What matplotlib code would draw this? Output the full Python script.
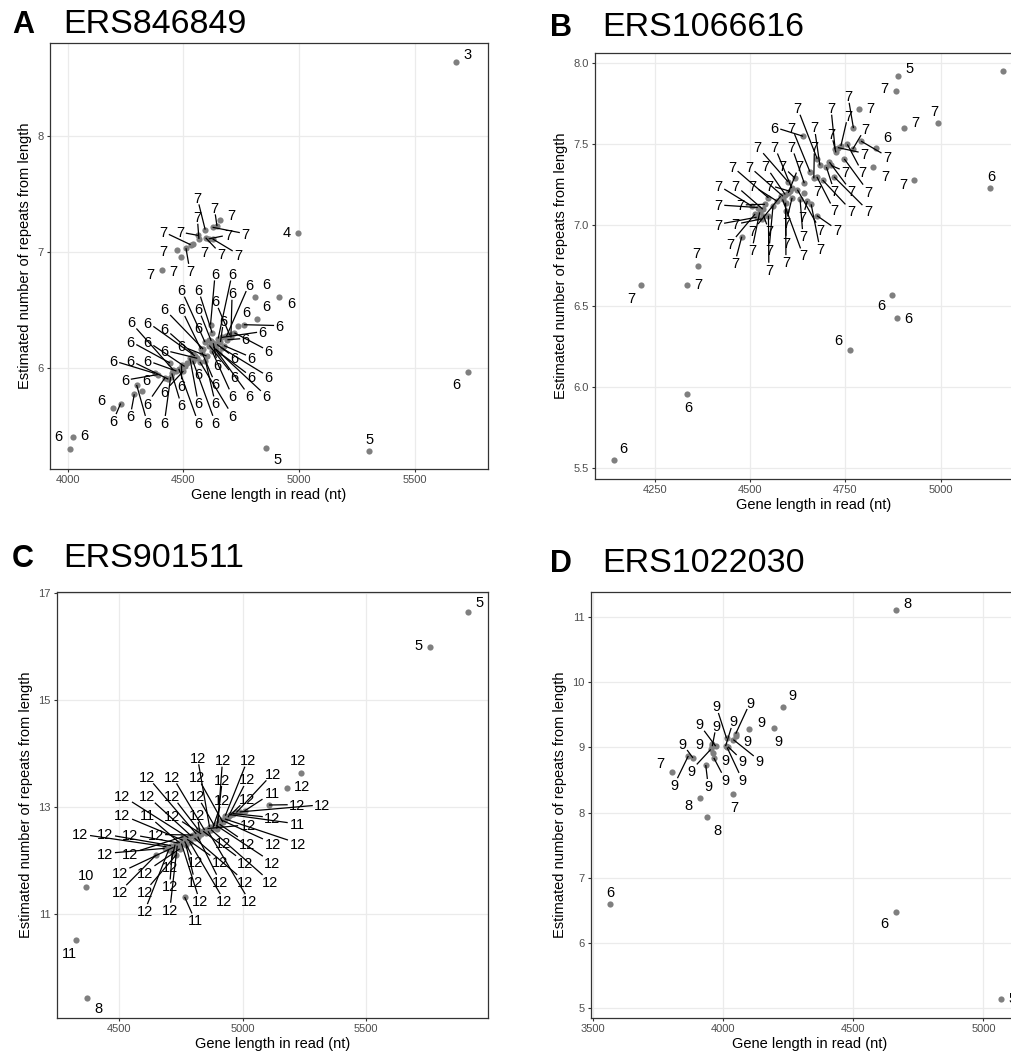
import numpy as np
import matplotlib
matplotlib.use('Agg')
import matplotlib.pyplot as plt

plt.rcParams['font.family'] = ['Liberation Sans', 'DejaVu Sans']

W_PX, H_PX, DPI = 1011, 1061, 100

# ---- Panel A: ERS846849 ----
A_LEN = [5677, 4996, 4856, 5300, 5728, 4024, 4010,
         4406, 4488, 4471, 4511, 4531, 4564, 4567, 4594, 4596, 4609, 4626, 4626, 4645, 4656, 4540,
         4809, 4914, 4819, 4761, 4735, 4617, 4624, 4686, 4700, 4665, 4593, 4629, 4645, 4660, 4612,
         4585, 4624, 4640, 4655, 4542, 4571, 4560, 4528, 4600, 4580, 4492, 4505, 4442, 4456, 4470,
         4420, 4435, 4445, 4377, 4390, 4298, 4320, 4288, 4229, 4197, 4610, 4675, 4690, 4720, 4550,
         4480, 4515, 4595, 4630, 4665, 4575, 4540, 4500, 4450, 4650, 4705, 4620]
A_REP = [8.64, 7.16, 5.31, 5.28, 5.96, 5.40, 5.30,
         6.84, 6.95, 7.01, 7.03, 7.06, 7.14, 7.11, 7.19, 7.12, 7.11, 7.11, 7.21, 7.22, 7.27, 7.07,
         6.61, 6.61, 6.42, 6.37, 6.36, 6.37, 6.30, 6.27, 6.28, 6.26, 6.22, 6.21, 6.20, 6.22, 6.19,
         6.16, 6.14, 6.16, 6.13, 6.12, 6.05, 6.08, 6.08, 6.10, 6.13, 6.02, 6.01, 6.04, 5.98, 5.97,
         5.91, 5.90, 5.92, 5.95, 5.94, 5.85, 5.80, 5.77, 5.69, 5.65, 6.24, 6.19, 6.24, 6.30, 6.10,
         5.99, 6.04, 6.06, 6.18, 6.17, 6.16, 6.06, 5.97, 5.95, 6.25, 6.26, 6.23]
A_LAB = [3, 4, 5, 5, 6, 6, 6,
         7, 7, 7, 7, 7, 7, 7, 7, 7, 7, 7, 7, 7, 7, 7,
         6, 6, 6, 6, 6, 6, 6, 6, 6, 6, 6, 6, 6, 6, 6,
         6, 6, 6, 6, 6, 6, 6, 6, 6, 6, 6, 6, 6, 6, 6,
         6, 6, 6, 6, 6, 6, 6, 6, 6, 6, 6, 6, 6, 6, 6,
         6, 6, 6, 6, 6, 6, 6, 6, 6, 6, 6, 6]

# ---- Panel B: ERS1066616 ----
B_LEN = [4887, 4639, 4829, 5130, 4873, 4885, 4762, 4334, 4143,
         4883, 5163, 4994, 4903, 4786, 4771, 4791, 4769, 4723, 4730, 4738, 4747, 4823, 4931,
         4478, 4362, 4214, 4334, 4676, 4708, 4683, 4657, 4675, 4667, 4720, 4712, 4642, 4618,
         4609, 4599, 4624, 4586, 4580, 4592, 4548, 4631, 4593, 4539, 4504, 4533, 4513, 4517,
         4548, 4593, 4675, 4660, 4600, 4570, 4525, 4530, 4560, 4610, 4640, 4700, 4725, 4605,
         4585, 4535, 4755, 4690, 4650, 4520]
B_REP = [7.92, 7.55, 7.48, 7.23, 6.57, 6.43, 6.23, 5.96, 5.55,
         7.83, 7.95, 7.63, 7.60, 7.72, 7.60, 7.52, 7.47, 7.47, 7.48, 7.49, 7.41, 7.36, 7.28,
         6.93, 6.75, 6.63, 6.63, 7.41, 7.39, 7.37, 7.33, 7.30, 7.29, 7.30, 7.37, 7.26, 7.29,
         7.23, 7.27, 7.22, 7.18, 7.18, 7.19, 7.17, 7.16, 7.14, 7.13, 7.12, 7.10, 7.07, 7.05,
         7.06, 7.09, 7.06, 7.13, 7.20, 7.15, 7.08, 7.04, 7.12, 7.17, 7.20, 7.36, 7.45, 7.21,
         7.16, 7.06, 7.50, 7.28, 7.15, 7.11]
B_LAB = [5, 6, 6, 6, 6, 6, 6, 6, 6,
         7, 7, 7, 7, 7, 7, 7, 7, 7, 7, 7, 7, 7, 7,
         7, 7, 7, 7, 7, 7, 7, 7, 7, 7, 7, 7, 7, 7,
         7, 7, 7, 7, 7, 7, 7, 7, 7, 7, 7, 7, 7, 7,
         7, 7, 7, 7, 7, 7, 7, 7, 7, 7, 7, 7, 7, 7,
         7, 7, 7, 7, 7, 7]

# ---- Panel C: ERS901511 ----
C_LEN = [5915, 5759, 4370, 4363, 4325, 4765, 5008, 4948, 4745, 5239, 5180, 5107,
         4650, 4684, 4691, 4700, 4710, 4720, 4726, 4731, 4735, 4740, 4745, 4752, 4758,
         4765, 4775, 4780, 4785, 4792, 4800, 4805, 4812, 4818, 4826, 4832, 4840, 4846,
         4852, 4858, 4866, 4872, 4880, 4886, 4893, 4900, 4907, 4914, 4920, 4928, 4941,
         4950, 4961, 4975, 4988, 4715, 4770, 4860, 4895, 4760, 4820, 4930]
C_REP = [16.65, 16.00, 9.43, 11.50, 10.51, 11.32, 12.93, 12.86, 12.33, 13.64, 13.35, 13.04,
         12.11, 12.23, 12.26, 12.20, 12.28, 12.25, 12.30, 12.11, 12.28, 12.33, 12.22, 12.32, 12.38,
         12.36, 12.40, 12.43, 12.35, 12.46, 12.48, 12.42, 12.50, 12.45, 12.54, 12.50, 12.55, 12.57,
         12.52, 12.60, 12.63, 12.58, 12.62, 12.65, 12.66, 12.70, 12.68, 12.76, 12.72, 12.78, 12.81,
         12.85, 12.88, 12.90, 12.91, 12.18, 12.30, 12.55, 12.60, 12.45, 12.58, 12.84]
C_LAB = [5, 5, 8, 10, 11, 11, 11, 11, 11, 12, 12, 12,
         12, 12, 12, 12, 12, 12, 12, 12, 12, 12, 12, 12, 12,
         12, 12, 12, 12, 12, 12, 12, 12, 12, 12, 12, 12, 12,
         12, 12, 12, 12, 12, 12, 12, 12, 12, 12, 12, 12, 12,
         12, 12, 12, 12, 12, 12, 12, 12, 12, 12, 12]

# ---- Panel D: ERS1022030 ----
D_LEN = [4666, 3911, 3940, 3566, 4663, 5069, 3803, 4037, 4231, 4196,
         3867, 3885, 3934, 3959, 3972, 3953, 3965, 3957, 3962, 4010, 4016, 4020, 4014,
         4040, 4049, 4051, 4100]
D_REP = [11.10, 8.22, 7.93, 6.60, 6.48, 5.15, 8.62, 8.29, 9.62, 9.30,
         8.87, 8.84, 8.73, 9.02, 9.02, 8.97, 8.84, 9.05, 8.92, 9.02, 9.00, 9.01, 9.14,
         9.12, 9.21, 9.17, 9.29]
D_LAB = [8, 8, 8, 6, 6, 5, 7, 7, 9, 9,
         9, 9, 9, 9, 9, 9, 9, 9, 9, 9, 9, 9, 9,
         9, 9, 9, 9]

PANELS = [
    dict(tag='A', title='ERS846849', x=A_LEN, y=A_REP, lab=A_LAB,
         rect=(50, 43, 438, 426), xlim=(3924, 5815), ylim=(5.125, 8.80),
         xticks=[4000, 4500, 5000, 5500], yticks=[6, 7, 8],
         tag_xy=(12, 33), title_xy=(63, 33)),
    dict(tag='B', title='ERS1066616', x=B_LEN, y=B_REP, lab=B_LAB,
         rect=(595, 53, 438, 426), xlim=(4093, 5242), ylim=(5.434, 8.064),
         xticks=[4250, 4500, 4750, 5000], yticks=[5.5, 6.0, 6.5, 7.0, 7.5, 8.0],
         tag_xy=(550, 36), title_xy=(602, 36)),
    dict(tag='C', title='ERS901511', x=C_LEN, y=C_REP, lab=C_LAB,
         rect=(57, 592, 431, 426), xlim=(4247, 5996), ylim=(9.06, 17.02),
         xticks=[4500, 5000, 5500], yticks=[11, 13, 15, 17],
         tag_xy=(12, 567), title_xy=(63, 567)),
    dict(tag='D', title='ERS1022030', x=D_LEN, y=D_REP, lab=D_LAB,
         rect=(591, 592, 438, 426), xlim=(3493.5, 5175), ylim=(4.853, 11.383),
         xticks=[3500, 4000, 4500, 5000], yticks=[5, 6, 7, 8, 9, 10, 11],
         tag_xy=(550, 572), title_xy=(602, 572)),
]

LAB_FS = 10.5
K_SPRING = 0.0035


def px_rect(left, top, width, height):
    return [left / W_PX, 1 - (top + height) / H_PX, width / W_PX, height / H_PX]


def repel(ax, xs, ys, labels, pad=4.5, r_pt=3.0, n_iter=3000):
    """Small ggrepel-like layout, done in display pixels."""
    pts = ax.transData.transform(np.column_stack([xs, ys]))
    px, py = pts[:, 0], pts[:, 1]
    n = len(px)
    fpx = LAB_FS * DPI / 72
    w = np.array([len(str(s)) for s in labels]) * 0.556 * fpx + 2 * pad
    h = np.full(n, 0.716 * fpx) + 2 * pad
    bb = ax.get_window_extent()
    ang = np.arange(n) * 2.399963 + 0.6
    cx = px + 5 * np.cos(ang)
    cy = py + 5 * np.sin(ang)
    vx = np.zeros(n)
    vy = np.zeros(n)
    eye = np.eye(n, dtype=bool)
    for it in range(n_iter):
        dx = cx[:, None] - cx[None, :]
        dy = cy[:, None] - cy[None, :]
        ox = (w[:, None] + w[None, :]) / 2 - np.abs(dx)
        oy = (h[:, None] + h[None, :]) / 2 - np.abs(dy)
        hit = (ox > 0) & (oy > 0) & ~eye
        d = np.hypot(dx, dy) + 1e-9
        m = np.where(hit, np.minimum(ox, oy), 0.0)
        fx = (m * dx / d).sum(1)
        fy = (m * dy / d).sum(1)

        qx = cx[:, None] - px[None, :]
        qy = cy[:, None] - py[None, :]
        pox = w[:, None] / 2 + r_pt - np.abs(qx)
        poy = h[:, None] / 2 + r_pt - np.abs(qy)
        phit = (pox > 0) & (poy > 0)
        qd = np.hypot(qx, qy) + 1e-9
        pm = np.where(phit, np.minimum(pox, poy), 0.0)
        fx += (pm * qx / qd).sum(1)
        fy += (pm * qy / qd).sum(1)

        fx += K_SPRING * (px - cx)
        fy += K_SPRING * (py - cy)

        vx = 0.55 * vx + 0.15 * fx
        vy = 0.55 * vy + 0.15 * fy
        sp = np.hypot(vx, vy)
        lim = np.minimum(1.0, 4.0 / (sp + 1e-9))
        vx *= lim
        vy *= lim
        cx = np.clip(cx + vx, bb.x0 + w / 2, bb.x1 - w / 2)
        cy = np.clip(cy + vy, bb.y0 + h / 2, bb.y1 - h / 2)
    return px, py, cx, cy, w, h, fpx, pad


def draw_panel(fig, p):
    ax = fig.add_axes(px_rect(*p['rect']))
    ax.set_xlim(p['xlim'])
    ax.set_ylim(p['ylim'])
    ax.set_xticks(p['xticks'])
    ax.set_yticks(p['yticks'])
    ax.grid(True, color='#EBEBEB', lw=0.9)
    ax.set_axisbelow(True)
    for s in ax.spines.values():
        s.set_color('#333333')
        s.set_linewidth(0.9)
    ax.tick_params(length=2.5, width=0.8, color='#333333', labelsize=8,
                   labelcolor='#4D4D4D', pad=2)
    ax.set_xlabel('Gene length in read (nt)', fontsize=10.5, labelpad=2)
    ax.set_ylabel('Estimated number of repeats from length', fontsize=10.5,
                  labelpad=4)

    ax.scatter(p['x'], p['y'], s=20, color='#7F7F7F', linewidths=0, zorder=2)

    labels = [str(v) for v in p['lab']]
    px, py, cx, cy, w, h, fpx, pad = repel(ax, p['x'], p['y'], labels)
    inv = ax.transData.inverted()
    for i, s in enumerate(labels):
        ddx = px[i] - cx[i]
        ddy = py[i] - cy[i]
        hw = w[i] / 2 - pad + 1.5
        hh = h[i] / 2 - pad + 1.5
        t = min(hw / (abs(ddx) + 1e-9), hh / (abs(ddy) + 1e-9))
        if t < 1:
            ex, ey = cx[i] + t * ddx, cy[i] + t * ddy
            if np.hypot(px[i] - ex, py[i] - ey) > 9:
                a = inv.transform([[px[i], py[i]], [ex, ey]])
                ax.plot(a[:, 0], a[:, 1], color='black', lw=0.9, zorder=3,
                        solid_capstyle='butt')
        tx, ty = inv.transform([cx[i], cy[i] - 0.716 * fpx / 2])
        ax.text(tx, ty, s, fontsize=LAB_FS, ha='center', va='baseline',
                color='black', zorder=4)

    fig.text(p['tag_xy'][0] / W_PX, 1 - p['tag_xy'][1] / H_PX, p['tag'],
             fontsize=22, fontweight='bold', va='baseline', ha='left')
    fig.text(p['title_xy'][0] / W_PX, 1 - p['title_xy'][1] / H_PX, p['title'],
             fontsize=24.5, va='baseline', ha='left')
    return ax


fig = plt.figure(figsize=(W_PX / DPI, H_PX / DPI), dpi=DPI)
fig.patch.set_facecolor('white')
for p in PANELS:
    draw_panel(fig, p)

fig.savefig('out.png', dpi=DPI, facecolor='white')
